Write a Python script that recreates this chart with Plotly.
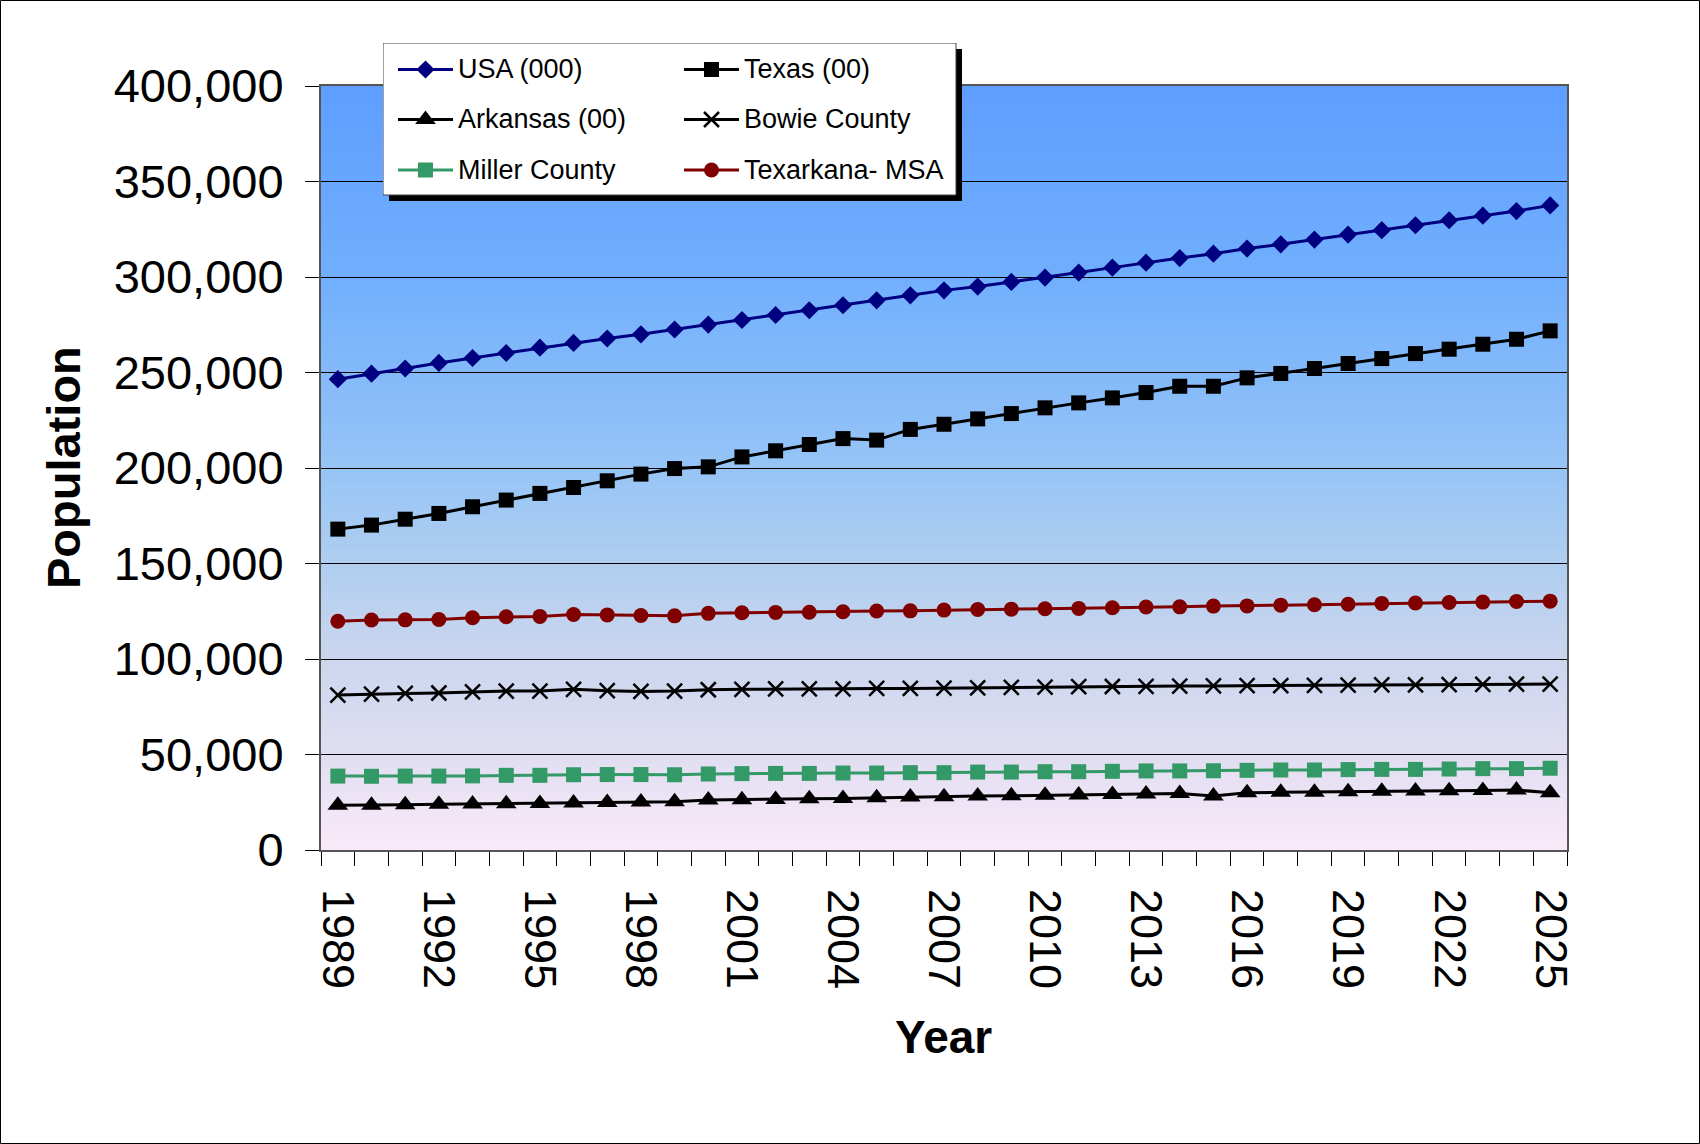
import plotly.graph_objects as go

# ---------------- data ----------------
years = list(range(1989, 2026))

usa = [246500, 249400, 252100, 255000, 257600, 260200, 263000, 265500, 267800, 270000,
       272500, 275100, 277500, 280100, 282600, 285200, 287800, 290400, 293000, 295000,
       297400, 299700, 302300, 304900, 307500, 309900, 312200, 314900, 317100, 319600,
       322200, 324500, 327100, 329700, 332100, 334500, 337500]

texas = [168000, 170100, 173200, 176200, 179700, 183200, 186700, 189800, 193300, 196800,
         199700, 200600, 205800, 209000, 212300, 215400, 214600, 220200, 222900, 225700,
         228500, 231500, 234100, 236700, 239500, 242800, 242800, 247200, 249500, 252100,
         254700, 257300, 259900, 262200, 264800, 267400, 271800]

arkansas = [23400, 23400, 23700, 23900, 24100, 24200, 24400, 24600, 24900, 25100,
            25300, 26200, 26300, 26500, 26800, 27000, 27400, 27700, 27900, 28300,
            28400, 28600, 28800, 29000, 29300, 29600, 28300, 30000, 30200, 30300,
            30500, 30700, 30900, 31000, 31200, 31400, 30000]

bowie = [81100, 81600, 82000, 82200, 82800, 83200, 83200, 84100, 83400, 83000,
         83200, 83900, 84100, 84300, 84300, 84400, 84600, 84600, 84800, 84900,
         85100, 85300, 85500, 85600, 85700, 85800, 85900, 86000, 86100, 86200,
         86300, 86400, 86500, 86600, 86700, 86800, 86900]

miller = [38700, 38600, 38700, 38700, 38800, 39100, 39100, 39400, 39500, 39500,
          39400, 39800, 40000, 40100, 40100, 40300, 40300, 40500, 40500, 40800,
          40800, 41000, 41000, 41200, 41400, 41400, 41500, 41700, 41900, 41900,
          42100, 42200, 42200, 42400, 42600, 42600, 42800]

texarkana = [119800, 120400, 120500, 120700, 121600, 122100, 122300, 123300, 123100, 122800,
             122600, 123900, 124200, 124400, 124500, 124700, 125100, 125200, 125600, 125900,
             126100, 126300, 126500, 126800, 127200, 127300, 127700, 127800, 128200, 128400,
             128700, 129100, 129300, 129600, 129800, 130100, 130300]

series_names = ["USA (000)", "Texas (00)", "Arkansas (00)",
                "Bowie County", "Miller County", "Texarkana- MSA"]
y_tick_values = [0, 50000, 100000, 150000, 200000, 250000, 300000, 350000, 400000]
x_label_years = [1989, 1992, 1995, 1998, 2001, 2004, 2007, 2010, 2013, 2016, 2019, 2022, 2025]

# ---------------- styling ----------------
FONT = "Liberation Sans, Arial, sans-serif"
styles = [
    dict(color="#000080", symbol="diamond", size=14),
    dict(color="#000000", symbol="square", size=15),
    dict(color="#000000", symbol="triangle-up", size=18),
    dict(color="#000000", symbol="x-thin", size=15),
    dict(color="#339966", symbol="square", size=15),
    dict(color="#800000", symbol="circle", size=15),
]
series_values = [usa, texas, arkansas, bowie, miller, texarkana]

# page geometry (pixels)
W, H = 1700, 1144
L, R, T, B = 321, 133, 40, 294
PW, PH = W - L - R, H - T - B
PLOT_TOP = 86


def fx(px):
    return (px - L) / PW


def fy(py):
    return (H - B - py) / PH


def marker_for(st):
    if st["symbol"] == "x-thin":
        return dict(symbol="x-thin", size=st["size"], color=st["color"],
                    line=dict(width=2.5, color=st["color"]))
    return dict(symbol=st["symbol"], size=st["size"], color=st["color"],
                line=dict(width=0))


fig = go.Figure()

for name, vals, st in zip(series_names, series_values, styles):
    fig.add_trace(go.Scatter(
        x=years, y=vals, name=name, mode="lines+markers",
        line=dict(color=st["color"], width=3),
        marker=marker_for(st), showlegend=False,
        xaxis="x", yaxis="y",
    ))

# ---------------- legend panel (drawn on its own small subplot) ----------------
BOX_L, BOX_T, BOX_R, BOX_B, SHADOW = 383, 43, 956, 195, 6
col_x = [398, 684]
row_y = [69.5, 119.5, 170]
SWATCH = 55

annotations = []
for i, (name, st) in enumerate(zip(series_names, styles)):
    cx = col_x[i % 2]
    ry = row_y[i // 2]
    fig.add_trace(go.Scatter(
        x=[cx, cx + SWATCH], y=[ry, ry], mode="lines",
        line=dict(color=st["color"], width=3), showlegend=False,
        hoverinfo="skip", xaxis="x2", yaxis="y2",
    ))
    fig.add_trace(go.Scatter(
        x=[cx + SWATCH / 2], y=[ry], mode="markers",
        marker=marker_for(st), showlegend=False,
        hoverinfo="skip", xaxis="x2", yaxis="y2",
    ))
    annotations.append(dict(
        text=name, x=cx + SWATCH + 3, y=ry, xref="x2", yref="y2",
        xanchor="left", yanchor="middle", showarrow=False,
        font=dict(family=FONT, size=27, color="black"),
    ))

# axis titles
annotations.append(dict(
    text="<b>Population</b>", x=fx(64), y=fy(468), xref="paper", yref="paper",
    textangle=-90, showarrow=False, xanchor="center", yanchor="middle",
    font=dict(family=FONT, size=47, color="black"),
))
annotations.append(dict(
    text="<b>Year</b>", x=fx(943), y=fy(1037), xref="paper", yref="paper",
    showarrow=False, xanchor="center", yanchor="middle",
    font=dict(family=FONT, size=46, color="black"),
))

# ---------------- shapes ----------------
shapes = []

# vertical gradient behind the plot area
stops = [
    (0.00, (250, 234, 248)),
    (0.125, (225, 222, 242)),
    (0.25, (203, 214, 238)),
    (0.375, (176, 206, 240)),
    (0.50, (150, 196, 246)),
    (0.75, (113, 175, 253)),
    (1.00, (94, 158, 255)),
]


def grad(t):
    for (t0, c0), (t1, c1) in zip(stops[:-1], stops[1:]):
        if t0 <= t <= t1:
            u = (t - t0) / (t1 - t0)
            return "rgb(%d,%d,%d)" % tuple(round(a + (b - a) * u) for a, b in zip(c0, c1))
    return "rgb(%d,%d,%d)" % stops[-1][1]


N = 160
for i in range(N):
    shapes.append(dict(
        type="rect", xref="x domain", yref="y domain",
        x0=0, x1=1, y0=i / N, y1=min(1, (i + 1.6) / N),
        fillcolor=grad((i + 0.5) / N), line=dict(width=0), layer="below",
    ))

# legend shadow and frame
shapes.append(dict(type="rect", xref="x2", yref="y2",
                   x0=BOX_L + SHADOW, x1=BOX_R + SHADOW, y0=BOX_T + SHADOW, y1=BOX_B + SHADOW,
                   fillcolor="black", line=dict(width=0), layer="below"))
shapes.append(dict(type="rect", xref="x2", yref="y2",
                   x0=BOX_L, x1=BOX_R, y0=BOX_T, y1=BOX_B,
                   fillcolor="white", line=dict(width=1, color="#404040"), layer="below"))

# outer frame around the whole figure
shapes.append(dict(type="rect", xref="paper", yref="paper",
                   x0=fx(0.5), x1=fx(W - 0.5), y0=fy(H - 0.5), y1=fy(0.5),
                   line=dict(width=1, color="black"), fillcolor="rgba(0,0,0,0)", layer="above"))

minor_ticks = [y - 0.5 for y in years] + [years[-1] + 0.5]

fig.update_layout(
    width=W, height=H,
    margin=dict(l=L, r=R, t=T, b=B, autoexpand=False),
    paper_bgcolor="white", plot_bgcolor="rgba(0,0,0,0)",
    showlegend=False,
    font=dict(family=FONT, color="black"),
    xaxis=dict(
        range=[years[0] - 0.5, years[-1] + 0.5],
        tickmode="array", tickvals=x_label_years,
        ticktext=[str(y) for y in x_label_years],
        tickangle=90, ticks="outside", ticklen=14, tickcolor="rgba(0,0,0,0)",
        ticklabelstandoff=14,
        tickfont=dict(family=FONT, size=45, color="black"),
        minor=dict(tickmode="array", tickvals=minor_ticks, ticks="outside",
                   ticklen=14, tickwidth=1, tickcolor="black", showgrid=False),
        showgrid=False, zeroline=False,
        showline=True, linecolor="#555555", linewidth=2, mirror=True,
        automargin=False, fixedrange=True, anchor="y",
    ),
    yaxis=dict(
        range=[0, 400000], domain=[0, fy(PLOT_TOP)],
        tickmode="array", tickvals=y_tick_values, tickformat=",",
        ticks="outside", ticklen=14, tickwidth=1, tickcolor="black",
        ticklabelstandoff=12,
        tickfont=dict(family=FONT, size=47, color="black"),
        showgrid=True, gridcolor="black", gridwidth=1, zeroline=False,
        showline=True, linecolor="#555555", linewidth=2, mirror=True,
        automargin=False, fixedrange=True, anchor="x",
    ),
    xaxis2=dict(domain=[fx(BOX_L), fx(BOX_R + SHADOW)],
                range=[BOX_L, BOX_R + SHADOW], visible=False,
                fixedrange=True, anchor="y2"),
    yaxis2=dict(domain=[fy(BOX_B + SHADOW), fy(BOX_T)],
                range=[BOX_B + SHADOW, BOX_T], visible=False,
                fixedrange=True, anchor="x2"),
    shapes=shapes,
    annotations=annotations,
)

fig.write_html("out.html")
